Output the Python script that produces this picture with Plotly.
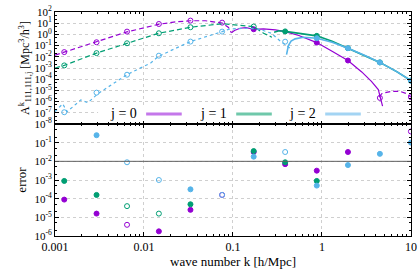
import plotly.graph_objects as go
from plotly.subplots import make_subplots

# ---------------- data ----------------
# sampling grid of the k points (h/Mpc)
K_GRID = [0.00127, 0.00293, 0.00645, 0.0147, 0.0333, 0.0755, 0.171, 0.386, 0.875, 1.96, 4.48, 10.0]

# --- top panel: log10 of A^k_{111,111,j} ---
# j = 0
j0_low_k = [0.001, 0.00127, 0.00293, 0.00641, 0.0146, 0.0226, 0.0333, 0.0491, 0.0757, 0.0891, 0.096]
j0_low_logA = [-1.85, -1.58, -0.70, 0.22, 0.90, 1.12, 1.22, 1.22, 1.02, 0.62, 0.15]
j0_mid_k = [0.096, 0.104, 0.12, 0.14, 0.171, 0.22, 0.30, 0.386, 0.55, 0.875, 1.3, 1.96, 2.8, 3.6, 4.3, 4.5, 4.65, 4.8]
j0_mid_logA = [0.15, 0.35, 0.55, 0.60, 0.46, 0.50, 0.40, 0.25, -0.10, -0.73, -1.50, -2.33, -3.35, -4.20, -4.93, -5.50, -6.00, -6.40]
j0_high_k = [4.4, 4.7, 5.1, 6.0, 7.5, 9.0, 10.0]
j0_high_logA = [-5.60, -5.30, -5.20, -5.10, -5.08, -5.30, -5.58]
j0_open_k = [0.00127, 0.00293, 0.00645, 0.0147, 0.0333, 0.0755, 4.48, 10.0]
j0_open_logA = [-1.58, -0.70, 0.25, 0.93, 1.23, 1.05, -5.67, -5.60]
j0_fill_k = [0.171, 0.875, 1.96]
j0_fill_logA = [0.46, -0.73, -2.33]

# j = 1
j1_low_k = [0.001, 0.00127, 0.00293, 0.00641, 0.0146, 0.0333, 0.0491, 0.0757, 0.104, 0.171, 0.221, 0.274]
j1_low_logA = [-3.00, -2.77, -1.67, -0.79, 0.10, 0.64, 0.80, 0.95, 0.85, 0.70, 0.10, -0.25]
j1_high_k = [0.29, 0.33, 0.386, 0.55, 0.875, 1.3, 1.96, 3.0, 4.48, 7.0, 10.0]
j1_high_logA = [0.20, 0.32, 0.27, 0.10, -0.13, -0.62, -1.23, -1.87, -2.50, -3.35, -4.13]
j1_open_k = [0.00127, 0.00293, 0.00645, 0.0147, 0.0333, 0.171]
j1_open_logA = [-2.77, -1.67, -0.79, 0.10, 0.64, 0.70]
j1_fill_k = [0.386, 0.875, 1.96, 4.48, 10.0]
j1_fill_logA = [0.27, -0.13, -1.23, -2.50, -4.13]

# j = 2
j2_low_k = [0.001, 0.00122, 0.00137, 0.00195, 0.00234, 0.00303, 0.00641, 0.0119, 0.0146, 0.0333,
            0.0757, 0.0891, 0.10, 0.15, 0.20, 0.27, 0.34, 0.44]
j2_low_logA = [-6.90, -6.20, -6.90, -5.85, -6.10, -5.30, -3.60, -2.55, -1.95, -0.64,
               0.25, 0.45, 0.50, 0.55, 0.45, 0.10, -0.60, -1.25]
j2_high_k = [0.40, 0.42, 0.45, 0.50, 0.62, 0.75, 0.875, 1.3, 1.96, 3.0, 4.48, 7.0, 10.0]
j2_high_logA = [-1.80, -1.00, -0.60, -0.40, -0.25, -0.28, -0.34, -0.70, -1.23, -1.87, -2.50, -3.35, -4.13]
j2_open_k = [0.00127, 0.00293, 0.00645, 0.0147, 0.0333, 0.0755, 0.386]
j2_open_logA = [-6.95, -5.20, -3.60, -1.90, -0.64, 0.25, -0.65]
j2_fill_k = [0.875, 1.96, 4.48, 10.0]
j2_fill_logA = [-0.34, -1.23, -2.50, -4.13]

# --- bottom panel: log10 of the error ---
err_j0_k = [0.00127, 0.00293, 0.00645, 0.0147, 0.0333, 0.0755, 0.171, 0.386, 0.875, 1.96, 10.0]
err_j0_log = [-4.05, -4.80, -5.40, -5.75, -4.60, -3.80, -1.50, -2.15, -2.50, -1.50, -0.40]
err_j0_open = [False, False, True, False, False, True, False, False, False, False, True]
err_j1_k = [0.00127, 0.00293, 0.00645, 0.0147, 0.0333, 0.171, 0.386, 0.875]
err_j1_log = [-3.05, -3.80, -4.40, -4.80, -4.30, -1.45, -2.05, -3.05]
err_j1_open = [False, False, True, True, False, False, False, False]
err_j2_k = [0.00293, 0.00645, 0.0147, 0.0333, 0.0755, 0.171, 0.386, 0.875, 1.96, 4.48, 10.0]
err_j2_log = [-0.60, -2.05, -3.00, -3.50, -3.80, -1.75, -1.50, -3.30, -2.20, -1.60, -1.00]
err_j2_open = [False, True, True, False, True, False, True, False, False, False, False]
ERROR_THRESHOLD = 1e-2

TOP_TICK_EXP = [2, 1, 0, -1, -2, -3, -4, -5, -6, -7, -8]
BOT_TICK_EXP = [-1, -2, -3, -4, -5, -6]
LEGEND_LABELS = ["j = 0", "j = 1", "j = 2"]

# ---------------- styling ----------------
COL = ["#9400d3", "#009e73", "#56b4e9"]
COL_LEG = ["#c477ea", "#6fc8aa", "#a3d4f3"]
FONT = "Liberation Serif, Times New Roman, serif"


def p10(v):
    return [10 ** x for x in v]


fig = make_subplots(rows=2, cols=1, shared_xaxes=True, vertical_spacing=0)


def line(k, logA, color, dash, row=1, width=1.2):
    fig.add_trace(go.Scatter(x=k, y=p10(logA), mode="lines",
                             line=dict(color=color, width=width, dash=dash),
                             showlegend=False, hoverinfo="skip"), row=row, col=1)


def marks(k, logv, color, open_flags, row=1):
    sym = ["circle-open" if o else "circle" for o in open_flags]
    fig.add_trace(go.Scatter(x=k, y=p10(logv), mode="markers",
                             marker=dict(color=color, size=5, symbol=sym,
                                         line=dict(color=color, width=1)),
                             showlegend=False, hoverinfo="skip"), row=row, col=1)


# j = 0
line(j0_low_k, j0_low_logA, COL[0], "5px,3px")
line(j0_mid_k, j0_mid_logA, COL[0], "solid")
line(j0_high_k, j0_high_logA, COL[0], "5px,3px")
marks(j0_open_k, j0_open_logA, COL[0], [True] * len(j0_open_k))
marks(j0_fill_k, j0_fill_logA, COL[0], [False] * len(j0_fill_k))
# j = 1
line(j1_low_k, j1_low_logA, COL[1], "5px,3px")
line(j1_high_k, j1_high_logA, COL[1], "solid", width=1.6)
marks(j1_open_k, j1_open_logA, COL[1], [True] * len(j1_open_k))
marks(j1_fill_k, j1_fill_logA, COL[1], [False] * len(j1_fill_k))
# j = 2
line(j2_low_k, j2_low_logA, COL[2], "3px,3px")
line(j2_high_k, j2_high_logA, COL[2], "solid", width=1.6)
marks(j2_open_k, j2_open_logA, COL[2], [True] * len(j2_open_k))
marks(j2_fill_k, j2_fill_logA, COL[2], [False] * len(j2_fill_k))

# error panel
marks(err_j0_k, err_j0_log, COL[0], err_j0_open, row=2)
marks(err_j1_k, err_j1_log, COL[1], err_j1_open, row=2)
marks(err_j2_k, err_j2_log, COL[2], err_j2_open, row=2)

fig.add_shape(type="line", xref="x2 domain", yref="y2", x0=0, x1=1,
              y0=ERROR_THRESHOLD, y1=ERROR_THRESHOLD,
              line=dict(color="#606060", width=1), layer="above")

axis_common = dict(showline=True, linecolor="black", linewidth=1, mirror="allticks",
                   ticks="inside", ticklen=4, tickcolor="black", automargin=False,
                   showgrid=True, gridcolor="#cfcfcf", griddash="dot", gridwidth=1,
                   zeroline=False, ticklabeloverflow="allow",
                   minor=dict(ticks="inside", ticklen=2, tickcolor="black", showgrid=False))

fig.update_xaxes(type="log", range=[-3, 1.001], tickmode="linear", tick0=0, dtick=1,
                 tickfont=dict(family=FONT, size=12, color="black"), **axis_common)
fig.update_xaxes(showticklabels=False, row=1, col=1)
fig.update_xaxes(title=dict(text="wave number k [h/Mpc]", font=dict(family=FONT, size=13, color="black"),
                            standoff=2), row=2, col=1)

fig.update_yaxes(type="log", tickfont=dict(family=FONT, size=11, color="black"), **axis_common)
fig.update_yaxes(range=[-8, 2], tickvals=[10 ** e for e in TOP_TICK_EXP],
                 ticktext=["10<sup>%d</sup>" % e for e in TOP_TICK_EXP],
                 title=dict(text="A<sup>k</sup><sub>111,111,j</sub> [Mpc<sup>3</sup>/h<sup>3</sup>]",
                            font=dict(family=FONT, size=12, color="black"), standoff=2),
                 row=1, col=1)
fig.update_yaxes(range=[-6, 0], tickvals=[10 ** e for e in BOT_TICK_EXP],
                 ticktext=["10<sup>%d</sup>" % e for e in BOT_TICK_EXP],
                 title=dict(text="error", font=dict(family=FONT, size=13, color="black"), standoff=4),
                 row=2, col=1)

fig.update_layout(yaxis=dict(domain=[0.5, 1.0]), yaxis2=dict(domain=[0.0, 0.5]))

# key box (gnuplot-style: label then line sample)
fig.add_shape(type="rect", xref="paper", yref="paper", x0=0.121, x1=0.874, y0=0.513, y1=0.580,
              fillcolor="white", line=dict(width=0), layer="above")
LEG_TEXT_X = [0.236, 0.489, 0.739]
for i, lab in enumerate(LEGEND_LABELS):
    fig.add_annotation(xref="paper", yref="paper", x=LEG_TEXT_X[i], y=0.545, text=lab,
                       showarrow=False, xanchor="right", yanchor="middle",
                       font=dict(family=FONT, size=14, color="black"))
    fig.add_shape(type="line", xref="paper", yref="paper", x0=LEG_TEXT_X[i] + 0.02,
                  x1=LEG_TEXT_X[i] + 0.12, y0=0.545, y1=0.545,
                  line=dict(color=COL_LEG[i], width=3), layer="above")

fig.update_layout(width=420, height=280, margin=dict(l=55, r=9, t=12, b=44),
                  plot_bgcolor="white", paper_bgcolor="white", showlegend=False,
                  font=dict(family=FONT, color="black"))

fig.write_html("out.html", config={"displayModeBar": False},
               post_script="document.body.style.margin='0px';document.body.style.overflow='hidden';")
